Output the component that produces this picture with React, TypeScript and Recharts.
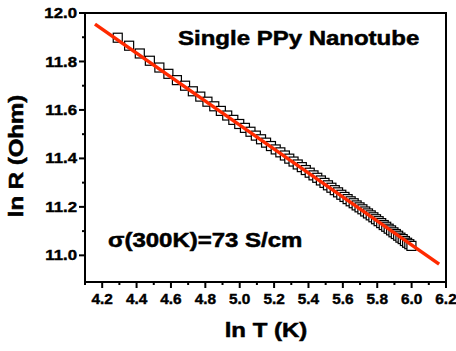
import React from "react";
import {
  ScatterChart,
  Scatter,
  XAxis,
  YAxis,
  ReferenceArea,
} from "recharts";

// ln T (K) of the measured points
const lnT = [
  4.2905, 4.3567, 4.4188, 4.4773, 4.5326, 4.585, 4.6347, 4.6821, 4.7274, 4.7707,
  4.8122, 4.852, 4.8903, 4.9273, 4.9628, 4.9972, 5.0304, 5.0626, 5.0938, 5.124,
  5.1533, 5.1818, 5.2095, 5.2364, 5.2627, 5.2883, 5.3132, 5.3375, 5.3613, 5.3845,
  5.4072, 5.4293, 5.451, 5.4723, 5.4931, 5.5134, 5.5334, 5.553, 5.5722, 5.591,
  5.6095, 5.6276, 5.6454, 5.663, 5.6802, 5.6971, 5.7137, 5.7301, 5.7462, 5.7621,
  5.7777, 5.793, 5.8081, 5.823, 5.8377, 5.8522, 5.8665, 5.8805, 5.8944, 5.9081,
  5.9216, 5.9349, 5.948, 5.961, 5.9738, 5.9865, 5.9989,
];

// ln R (Ohm) of the measured points
const lnR = [
  11.898, 11.865, 11.833, 11.803, 11.775, 11.749, 11.723, 11.7, 11.677, 11.655,
  11.634, 11.615, 11.596, 11.577, 11.559, 11.542, 11.526, 11.51, 11.494, 11.479,
  11.465, 11.451, 11.437, 11.425, 11.412, 11.399, 11.387, 11.375, 11.364, 11.352,
  11.341, 11.33, 11.32, 11.309, 11.299, 11.289, 11.279, 11.269, 11.26, 11.25,
  11.241, 11.232, 11.223, 11.215, 11.206, 11.198, 11.19, 11.181, 11.173, 11.165,
  11.157, 11.149, 11.141, 11.133, 11.125, 11.118, 11.11, 11.103, 11.095, 11.088,
  11.081, 11.073, 11.067, 11.059, 11.052, 11.046, 11.039,
];

// linear fit end points
const fitX = [4.158, 6.16];
const fitY = [11.954, 10.964];

const xTicks = [
  4.1, 4.2, 4.3, 4.4, 4.5, 4.6, 4.7, 4.8, 4.9, 5.0, 5.1, 5.2, 5.3, 5.4, 5.5, 5.6,
  5.7, 5.8, 5.9, 6.0, 6.1, 6.2,
];
const yTicks = [11.0, 11.1, 11.2, 11.3, 11.4, 11.5, 11.6, 11.7, 11.8, 11.9, 12.0];

const points = lnT.map((x, i) => ({ x, y: lnR[i] }));
const fit = fitX.map((x, i) => ({ x, y: fitY[i] }));

const FONT = "'Liberation Sans', Arial, Helvetica, sans-serif";
const RED = "#ff2a00";

const isMajor = (v: number) => Math.round(v * 10) % 2 === 0;

const XTick = (props: any) => {
  const { x, y, payload } = props;
  const major = isMajor(payload.value);
  return (
    <g>
      <line x1={x} x2={x} y1={y} y2={y + (major ? 6 : 3)} stroke="#000" strokeWidth={2} />
      {major && (
        <text
          transform={`translate(${x},${y + 22}) scale(1.1,1)`}
          textAnchor="middle"
          fontFamily={FONT}
          fontWeight="bold"
          fontSize={14}
          fill="#000"
          stroke="#000"
          strokeWidth={0.4}
        >
          {payload.value.toFixed(1)}
        </text>
      )}
    </g>
  );
};

const YTick = (props: any) => {
  const { x, y, payload } = props;
  const major = isMajor(payload.value);
  return (
    <g>
      <line x1={x} x2={x - (major ? 6 : 3)} y1={y} y2={y} stroke="#000" strokeWidth={2} />
      {major && (
        <text
          transform={`translate(${x - 8},${y}) scale(1.2,1)`}
          textAnchor="end"
          dy="0.36em"
          fontFamily={FONT}
          fontWeight="bold"
          fontSize={14}
          fill="#000"
          stroke="#000"
          strokeWidth={0.4}
        >
          {payload.value.toFixed(1)}
        </text>
      )}
    </g>
  );
};

const Square = (props: any) => {
  const { cx, cy } = props;
  return (
    <rect x={cx - 4.5} y={cy - 4.5} width={9} height={9} fill="#fff" stroke="#000" strokeWidth={1.2} />
  );
};

export default function App() {
  return (
    <div style={{ position: "absolute", left: 0, top: 0, width: 456, height: 351, background: "#fff" }}>
      <ScatterChart width={456} height={351} margin={{ top: 13, right: 10, left: 25, bottom: 19 }}>
        <XAxis
          type="number"
          dataKey="x"
          domain={[4.1, 6.2]}
          ticks={xTicks}
          interval={0}
          allowDataOverflow
          axisLine={false}
          tickLine={false}
          tickSize={0}
          tickMargin={0}
          height={50}
          tick={XTick}
        />
        <YAxis
          type="number"
          dataKey="y"
          domain={[10.89, 12.0]}
          ticks={yTicks}
          interval={0}
          allowDataOverflow
          axisLine={false}
          tickLine={false}
          tickSize={0}
          tickMargin={0}
          width={60}
          tick={YTick}
        />
        <ReferenceArea
          x1={4.1}
          x2={6.2}
          y1={10.89}
          y2={12.0}
          fill="none"
          stroke="#000"
          strokeWidth={2}
          ifOverflow="visible"
        />
        <Scatter data={points} shape={Square} isAnimationActive={false} />
        <Scatter
          data={fit}
          line={{ stroke: RED, strokeWidth: 3.5 }}
          shape={() => <g />}
          isAnimationActive={false}
        />
      </ScatterChart>
      <svg
        width={456}
        height={351}
        style={{ position: "absolute", left: 0, top: 0, pointerEvents: "none" }}
      >
        <g fontFamily={FONT} fontWeight="bold" fill="#000" stroke="#000" strokeWidth={0.5}>
          <text transform="translate(178,45) scale(1.2,1)" fontSize={20}>
            Single PPy Nanotube
          </text>
          <text transform="translate(108,247) scale(1.2,1)" fontSize={20}>
            σ(300K)=73 S/cm
          </text>
          <text transform="translate(266,337) scale(1.2,1)" fontSize={20} textAnchor="middle">
            ln T (K)
          </text>
          <text transform="translate(23,156) rotate(-90) scale(1.2,1)" fontSize={20} textAnchor="middle">
            ln R (Ohm)
          </text>
        </g>
      </svg>
    </div>
  );
}
